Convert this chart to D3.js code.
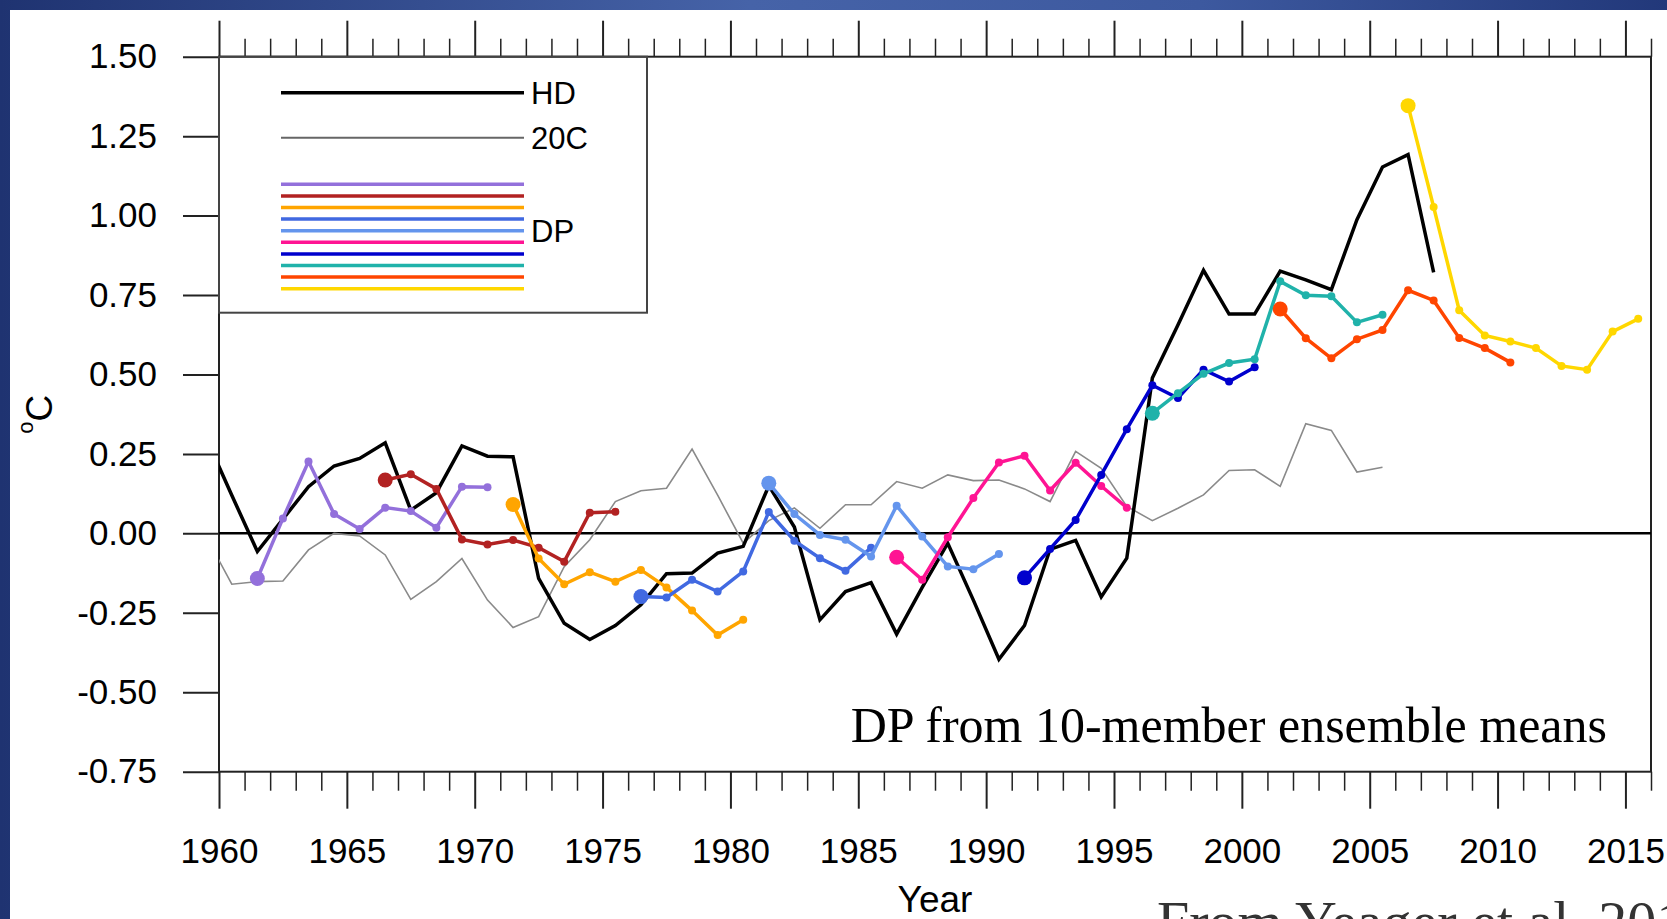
<!DOCTYPE html>
<meta charset="utf-8">

<!-- Load d3.js -->
<script src="https://d3js.org/d3.v7.min.js"></script>

<style>
    body {
        margin: 0;
        background: #fff;
    }
    .axis-label {
        font-family: "Liberation Sans", Arial, sans-serif;
        font-size: 35px;
        fill: black;
    }
    .legend-label {
        font-family: "Liberation Sans", Arial, sans-serif;
        font-size: 31px;
        fill: black;
    }
    .note {
        font-family: "Liberation Serif", "Times New Roman", serif;
    }
</style>

<div id="my_dataviz"></div>

<script>

    // ---- data (annual means, plotted at mid-year) ----
    const hdStart = 1959
    const hdValues = [0.30, 0.12, -0.057, 0.045, 0.147, 0.212, 0.236, 0.285, 0.073, 0.128,
                      0.275, 0.243, 0.241, -0.142, -0.283, -0.334, -0.290, -0.225, -0.127, -0.125,
                      -0.062, -0.041, 0.150, 0.020, -0.272, -0.183, -0.155, -0.317, -0.170, -0.031,
                      -0.210, -0.396, -0.290, -0.050, -0.022, -0.200, -0.078, 0.489, 0.656, 0.828,
                      0.690, 0.690, 0.825, 0.798, 0.767, 0.987, 1.153, 1.192, 0.821]

    const c20Start = 1959
    const c20Values = [-0.01, -0.160, -0.152, -0.150, -0.052, 0.000, -0.008, -0.068, -0.208, -0.152,
                       -0.079, -0.210, -0.296, -0.262, -0.105, -0.020, 0.100, 0.134, 0.142, 0.265,
                       0.120, -0.031, 0.040, 0.080, 0.016, 0.090, 0.090, 0.163, 0.142, 0.184,
                       0.166, 0.168, 0.140, 0.100, 0.258, 0.205, 0.085, 0.040, 0.079, 0.121,
                       0.198, 0.200, 0.148, 0.345, 0.324, 0.193, 0.208]

    // DP hindcasts: start year of each 10-member ensemble mean and its 10 yearly values
    const dpStarts = [1961, 1966, 1971, 1976, 1981, 1986, 1991, 1996, 2001, 2006]
    const dpValues = [
        [-0.142, 0.047, 0.226, 0.061, 0.014, 0.081, 0.070, 0.018, 0.147, 0.145],
        [0.168, 0.186, 0.140, -0.019, -0.035, -0.021, -0.045, -0.089, 0.065, 0.068],
        [0.091, -0.079, -0.160, -0.122, -0.152, -0.115, -0.170, -0.243, -0.320, -0.272],
        [-0.199, -0.202, -0.146, -0.183, -0.120, 0.067, -0.023, -0.078, -0.118, -0.045],
        [0.158, 0.061, -0.005, -0.020, -0.073, 0.087, -0.010, -0.104, -0.113, -0.065],
        [-0.075, -0.146, -0.012, 0.111, 0.223, 0.244, 0.135, 0.222, 0.149, 0.081],
        [-0.140, -0.049, 0.042, 0.184, 0.328, 0.466, 0.426, 0.515, 0.478, 0.523],
        [0.378, 0.441, 0.502, 0.536, 0.548, 0.793, 0.749, 0.746, 0.664, 0.688],
        [0.706, 0.614, 0.551, 0.611, 0.640, 0.765, 0.733, 0.615, 0.583, 0.538],
        [1.346, 1.027, 0.702, 0.623, 0.604, 0.583, 0.527, 0.515, 0.635, 0.675]
    ]
    const dpColors = ["mediumpurple", "firebrick", "orange", "royalblue", "cornflowerblue",
                      "deeppink", "mediumblue", "lightseagreen", "orangered", "gold"]

    const xTicks = [1960, 1965, 1970, 1975, 1980, 1985, 1990, 1995, 2000, 2005, 2010, 2015]
    const yTicks = [-0.75, -0.5, -0.25, 0, 0.25, 0.5, 0.75, 1.0, 1.25, 1.5]
    const yTickLabels = ["-0.75", "-0.50", "-0.25", "0.00", "0.25", "0.50", "0.75", "1.00", "1.25", "1.50"]

    // ---- layout ----
    const W = 1667, H = 919
    const plot = {left: 219, right: 1651, top: 56.7, bottom: 771.7}

    const svg = d3.select("#my_dataviz")
                  .append("svg")
                    .attr("width", W)
                    .attr("height", H)

    // slide background (blue frame)
    const defs = svg.append("defs")
    const grad = defs.append("linearGradient").attr("id", "slideBg")
    grad.append("stop").attr("offset", "0%").attr("stop-color", "#1f3371")
    grad.append("stop").attr("offset", "45%").attr("stop-color", "#4663a8")
    grad.append("stop").attr("offset", "72%").attr("stop-color", "#3d599f")
    grad.append("stop").attr("offset", "100%").attr("stop-color", "#22387a")
    svg.append("rect").attr("width", W).attr("height", H).attr("fill", "url(#slideBg)")
    svg.append("rect").attr("x", 10).attr("y", 10).attr("width", W - 10).attr("height", H - 10).attr("fill", "white")

    defs.append("clipPath").attr("id", "plotClip")
        .append("rect")
          .attr("x", plot.left).attr("y", plot.top)
          .attr("width", plot.right - plot.left).attr("height", plot.bottom - plot.top)

    // scales
    const x = d3.scaleLinear().domain([1960, 2016]).range([plot.left, plot.right])
    const y = d3.scaleLinear().domain([-0.75, 1.5]).range([plot.bottom, plot.top])

    const minorYears = d3.range(1960, 2017).filter(d => d % 5 !== 0)

    // axes: major + minor ticks, bottom and top
    function styleAxis(g, w) {
        g.select(".domain").remove()
        g.selectAll(".tick line").attr("stroke", "#222").attr("stroke-width", w)
    }

    svg.append("g")
        .attr("transform", `translate(0,${plot.bottom})`)
        .call(d3.axisBottom(x).tickValues(xTicks).tickFormat(d3.format("d")).tickSize(37).tickPadding(29).tickSizeOuter(0))
        .call(g => styleAxis(g, 2))
        .call(g => g.selectAll("text").attr("class", "axis-label").attr("fill", "black"))

    svg.append("g")
        .attr("transform", `translate(0,${plot.bottom})`)
        .call(d3.axisBottom(x).tickValues(minorYears).tickFormat("").tickSize(19).tickSizeOuter(0))
        .call(g => styleAxis(g, 1.5))

    svg.append("g")
        .attr("transform", `translate(0,${plot.top})`)
        .call(d3.axisTop(x).tickValues(xTicks).tickFormat("").tickSize(36).tickSizeOuter(0))
        .call(g => styleAxis(g, 2))

    svg.append("g")
        .attr("transform", `translate(0,${plot.top})`)
        .call(d3.axisTop(x).tickValues(minorYears).tickFormat("").tickSize(18).tickSizeOuter(0))
        .call(g => styleAxis(g, 1.5))

    svg.append("g")
        .attr("transform", `translate(${plot.left},0)`)
        .call(d3.axisLeft(y).tickValues(yTicks).tickFormat((d, i) => yTickLabels[i]).tickSize(36).tickPadding(26).tickSizeOuter(0))
        .call(g => styleAxis(g, 2))
        .call(g => g.selectAll("text").attr("class", "axis-label").attr("fill", "black"))

    // plot frame
    svg.append("rect")
        .attr("x", plot.left).attr("y", plot.top)
        .attr("width", plot.right - plot.left).attr("height", plot.bottom - plot.top)
        .attr("fill", "none").attr("stroke", "#222").attr("stroke-width", 2)

    // axis titles
    svg.append("text")
        .attr("class", "axis-label")
        .attr("x", (plot.left + plot.right) / 2)
        .attr("y", 912)
        .attr("text-anchor", "middle")
        .style("font-size", "37px")
        .text("Year")

    const yTitle = svg.append("text")
        .attr("class", "axis-label")
        .attr("transform", `translate(52,${(plot.top + plot.bottom) / 2}) rotate(-90)`)
        .attr("text-anchor", "middle")
        .style("font-size", "37px")
    yTitle.append("tspan").attr("dy", -19).style("font-size", "22px").text("o")
    yTitle.append("tspan").attr("dy", 19).text("C")

    const chart = svg.append("g").attr("clip-path", "url(#plotClip)")

    // zero line
    chart.append("line")
        .attr("x1", plot.left).attr("x2", plot.right)
        .attr("y1", y(0)).attr("y2", y(0))
        .attr("stroke", "black").attr("stroke-width", 2.5)

    const line = d3.line()
        .x(d => x(d.year + 0.5))
        .y(d => y(d.value))

    const toPoints = (start, vals) => vals.map((v, i) => ({year: start + i, value: v}))

    // 20C (thin grey) and HD (thick black)
    chart.append("path")
        .datum(toPoints(c20Start, c20Values))
        .attr("d", line)
        .attr("fill", "none").attr("stroke", "#8a8a8a").attr("stroke-width", 1.6)

    chart.append("path")
        .datum(toPoints(hdStart, hdValues))
        .attr("d", line)
        .attr("fill", "none").attr("stroke", "black").attr("stroke-width", 3.5)
        .attr("stroke-linejoin", "miter")

    // DP ensembles: line + small dots, big dot at initialisation year
    dpStarts.forEach(function(start, k) {
        const pts = toPoints(start, dpValues[k])
        const g = chart.append("g")
        g.append("path")
            .datum(pts)
            .attr("d", line)
            .attr("fill", "none").attr("stroke", dpColors[k]).attr("stroke-width", 3.5)
        g.selectAll("circle")
            .data(pts)
            .join("circle")
              .attr("cx", d => x(d.year + 0.5))
              .attr("cy", d => y(d.value))
              .attr("r", (d, i) => i === 0 ? 7.5 : 4)
              .attr("fill", dpColors[k])
    })

    // legend box
    const legend = svg.append("g")
    legend.append("rect")
        .attr("x", plot.left).attr("y", plot.top)
        .attr("width", 647 - plot.left).attr("height", 312.7 - plot.top)
        .attr("fill", "none").attr("stroke", "#444").attr("stroke-width", 2)

    const lx1 = 281, lx2 = 524
    legend.append("line").attr("x1", lx1).attr("x2", lx2).attr("y1", 92.7).attr("y2", 92.7)
        .attr("stroke", "black").attr("stroke-width", 3.5)
    legend.append("line").attr("x1", lx1).attr("x2", lx2).attr("y1", 137.7).attr("y2", 137.7)
        .attr("stroke", "#666").attr("stroke-width", 2)
    legend.selectAll("line.dp")
        .data(dpColors)
        .join("line")
          .attr("class", "dp")
          .attr("x1", lx1).attr("x2", lx2)
          .attr("y1", (d, i) => 184.3 + i * 11.6)
          .attr("y2", (d, i) => 184.3 + i * 11.6)
          .attr("stroke", d => d).attr("stroke-width", 3.5)
    legend.selectAll("text")
        .data([["HD", 92.7], ["20C", 137.7], ["DP", 230.7]])
        .join("text")
          .attr("class", "legend-label")
          .attr("x", 531)
          .attr("y", d => d[1])
          .attr("dy", "0.36em")
          .text(d => d[0])

    // annotations
    svg.append("text")
        .attr("class", "note")
        .attr("x", 1607).attr("y", 742)
        .attr("text-anchor", "end")
        .style("font-size", "50px")
        .attr("fill", "black")
        .text("DP from 10-member ensemble means")

    svg.append("text")
        .attr("class", "note")
        .attr("x", 1157).attr("y", 941)
        .style("font-size", "58px")
        .attr("fill", "#333")
        .text("From Yeager et al. 2018")

</script>
